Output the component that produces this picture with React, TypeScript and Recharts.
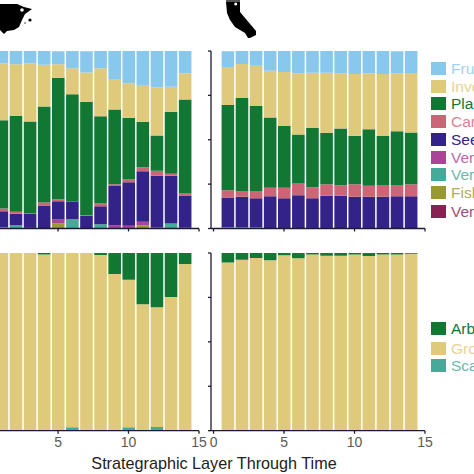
import React from "react";
import { BarChart, Bar, XAxis, YAxis } from "recharts";

const layers = [1, 2, 3, 4, 5, 6, 7, 8, 9, 10, 11, 12, 13, 14];
const xTicks = [0, 5, 10, 15];
const yTicks = [0, 25, 50, 75, 100];

// Left, diet
const fruitL = [7.0, 7.5, 7.0, 7.9, 7.3, 9.8, 12.0, 9.8, 15.8, 18.2, 19.4, 20.5, 20.1, 12.6];
const invertL = [32.0, 29.1, 32.7, 23.5, 7.7, 14.7, 16.5, 27.1, 17.1, 19.4, 20.7, 27.1, 14.1, 14.7];
const plantL = [49.8, 54.0, 51.9, 54.0, 68.4, 60.5, 63.9, 49.1, 42.1, 34.8, 25.6, 19.9, 35.0, 53.0];
const carnL = [1.5, 1.1, 0.2, 1.7, 1.1, 0.2, 0.4, 1.5, 1.1, 1.5, 2.3, 2.8, 1.1, 1.1];
const seedL = [8.8, 6.4, 7.3, 13.0, 10.3, 9.6, 7.1, 10.2, 22.2, 24.6, 28.4, 28.8, 26.9, 18.2];
const vertPurpleL = [0, 0, 0, 0, 2.3, 0, 0, 0, 1.7, 1.5, 1.9, 0.9, 0, 0];
const vertTealL = [0.9, 1.9, 0, 0, 0, 5.3, 0, 2.4, 0, 0, 0, 0, 2.8, 0];
const fishL = [0, 0, 0, 0, 2.8, 0, 0, 0, 0, 0, 1.9, 0, 0, 0];
const vertMaroonL = [0, 0, 0.9, 0, 0, 0, 0, 0, 0, 0, 0, 0, 0, 0.4];

// Right, diet
const fruitR = [8.8, 7.3, 8.3, 11.1, 11.8, 12.6, 12.2, 12.4, 12.6, 13.0, 12.6, 13.0, 12.4, 12.4];
const invertR = [21.4, 19.2, 22.7, 26.3, 30.5, 34.6, 31.2, 33.7, 31.0, 34.8, 31.6, 35.0, 32.7, 33.5];
const plantR = [48.1, 52.6, 47.9, 39.7, 34.8, 27.3, 33.3, 29.0, 32.0, 27.4, 31.8, 27.6, 30.6, 29.1];
const carnR = [4.1, 3.0, 4.1, 4.7, 5.8, 6.8, 6.2, 6.6, 6.0, 7.0, 6.2, 6.6, 6.0, 6.8];
const seedR = [16.5, 17.3, 16.4, 18.2, 17.1, 18.8, 17.1, 18.4, 18.4, 17.9, 17.9, 17.9, 18.2, 18.2];
const vertTealR = [0.9, 0.6, 0.6, 0, 0, 0, 0, 0, 0, 0, 0, 0, 0, 0];

// Locomotion
const arbL = [0, 0, 0, 0.9, 0, 0, 0, 1.1, 11.8, 15.0, 28.8, 30.5, 24.8, 6.2];
const scanL = [0, 0, 0, 0.2, 0, 1.9, 0, 0.2, 0, 1.9, 0.6, 2.1, 0, 0];
const groundL = [100, 100, 100, 98.9, 100, 98.1, 100, 98.7, 88.2, 83.1, 70.6, 67.4, 75.2, 93.8];
const arbR = [5.3, 3.8, 2.8, 4.1, 1.3, 3.0, 0.8, 1.5, 1.5, 0.9, 1.7, 0.9, 0.9, 0.4];
const groundR = [94.7, 96.2, 97.2, 95.9, 98.7, 97.0, 99.2, 98.5, 98.5, 99.1, 98.3, 99.1, 99.1, 99.6];

const dietNames = ["Frugivore", "Invertivore", "Plantivore", "Carnivore", "Seed eater", "Vertivore", "Vertebrate", "Fish eater", "Vermivore"];
const dietColors = ["#88c8ec", "#dfca7c", "#117733", "#cc6677", "#332288", "#aa4499", "#44aa99", "#999933", "#882255"];
const locoNames = ["Arboreal", "Ground", "Scansorial"];
const locoColors = ["#117733", "#dfca7c", "#44aa99"];

const AXIS = "#1f1a33";
const toRows = (cols: Record<string, number[]>) =>
  layers.map((x, i) => {
    const row: Record<string, number> = { x };
    Object.keys(cols).forEach((k) => (row[k] = cols[k][i]));
    return row;
  });

// Bottom-to-top stack order
const dietStack = [8, 7, 6, 5, 4, 3, 2, 1, 0];
const dietRowsL = toRows({
  d0: fruitL, d1: invertL, d2: plantL, d3: carnL, d4: seedL, d5: vertPurpleL, d6: vertTealL, d7: fishL, d8: vertMaroonL,
});
const dietRowsR = toRows({
  d0: fruitR, d1: invertR, d2: plantR, d3: carnR, d4: seedR, d5: layers.map(() => 0), d6: vertTealR, d7: layers.map(() => 0), d8: layers.map(() => 0),
});
const locoRowsL = toRows({ l0: arbL, l1: groundL, l2: scanL });
const locoRowsR = toRows({ l0: arbR, l1: groundR, l2: layers.map(() => 0) });
const locoStack = [2, 1, 0];

const PW = 214;
const YW = 20;

function Panel({ left, top, plotH, rows, prefix, stack, colors, labels }: any) {
  const xAxisH = 26;
  return (
    <div style={{ position: "absolute", left: left - YW, top: top - 10 }}>
      <BarChart
        width={YW + PW + 12}
        height={10 + plotH + xAxisH}
        data={rows}
        margin={{ top: 10, right: 12, bottom: 0, left: 0 }}
        barSize={12.6}
        stackOffset="none"
      >
        <XAxis
          dataKey="x"
          type="number"
          domain={[-0.18, 15]}
          allowDataOverflow
          ticks={xTicks}
          height={xAxisH}
          interval={0}
          tickSize={3}
          tickMargin={3}
          stroke={AXIS}
          strokeWidth={1.3}
          tick={{ fill: "#5a5a5a", fontSize: 14 }}
          tickFormatter={(v: number) => (labels ? String(v) : "")}
        />
        <YAxis
          type="number"
          domain={[0, 100]}
          allowDataOverflow
          ticks={yTicks}
          width={YW}
          tickSize={3}
          stroke={AXIS}
          strokeWidth={1.3}
          tickFormatter={() => ""}
        />
        {stack.map((k: number) => (
          <Bar key={k} dataKey={`${prefix}${k}`} stackId="s" fill={colors[k]} isAnimationActive={false} />
        ))}
      </BarChart>
    </div>
  );
}

function LegendBlock({ names, colors, tops }: { names: string[]; colors: string[]; tops: number[] }) {
  return (
    <>
      {names.map((n, i) => (
        <React.Fragment key={n}>
          <div style={{ position: "absolute", left: 431, top: tops[i], width: 15, height: 13, background: colors[i] }} />
          <div
            style={{
              position: "absolute",
              left: 451,
              top: tops[i] - 2,
              height: 17,
              lineHeight: "17px",
              fontSize: 15.5,
              color: colors[i],
              opacity: colors[i] === "#332288" || colors[i] === "#117733" ? 1 : 0.8,
              whiteSpace: "nowrap",
            }}
          >
            {n}
          </div>
        </React.Fragment>
      ))}
    </>
  );
}

const dietTops = [62, 79.5, 97, 115, 132.5, 150.5, 168, 186, 204.5];
const locoTops = [322, 342, 359];

export default function App() {
  return (
    <div
      style={{
        position: "fixed",
        left: 0,
        top: 0,
        width: 474,
        height: 474,
        overflow: "hidden",
        background: "#fff",
        fontFamily: "'Liberation Sans', Arial, sans-serif",
      }}
    >
      <svg width={474} height={50} style={{ position: "absolute", left: 0, top: 0 }}>
        <path d="M0 4 L17 4 L24 7 L32 9 L25 14 L22 20 L19 27 L14 30 L7 31 L4 34 L0 30 Z" fill="#000" />
        <circle cx={22} cy={10} r={1.8} fill="#fff" />
        <circle cx={30} cy={20} r={1.6} fill="#000" />
        <circle cx={25} cy={23} r={0.8} fill="#333" />
        <rect x={226} y={0} width={14} height={3} fill="#555" />
        <path d="M226 2 L240 2 L240 12 L256 31 L256 35 L250 38 L248 38 L245 33 L235 27 L230 20 L227 13 Z" fill="#000" />
        <circle cx={235.7} cy={4} r={1.5} fill="#fff" />
      </svg>

      <Panel left={-15.3} top={51} plotH={177.5} rows={dietRowsL} prefix="d" stack={dietStack} colors={dietColors} labels={false} />
      <Panel left={211} top={51} plotH={177.5} rows={dietRowsR} prefix="d" stack={dietStack} colors={dietColors} labels={false} />
      <Panel left={-15.3} top={253} plotH={177.7} rows={locoRowsL} prefix="l" stack={locoStack} colors={locoColors} labels />
      <Panel left={211} top={253} plotH={177.7} rows={locoRowsR} prefix="l" stack={locoStack} colors={locoColors} labels />

      <LegendBlock names={dietNames} colors={dietColors} tops={dietTops} />
      <LegendBlock names={locoNames} colors={locoColors} tops={locoTops} />

      <div
        style={{
          position: "absolute",
          left: 64,
          top: 454,
          width: 300,
          textAlign: "center",
          fontSize: 16.2,
          lineHeight: "18px",
          color: "#222",
          whiteSpace: "nowrap",
        }}
      >
        Strategraphic Layer Through Time
      </div>
    </div>
  );
}
